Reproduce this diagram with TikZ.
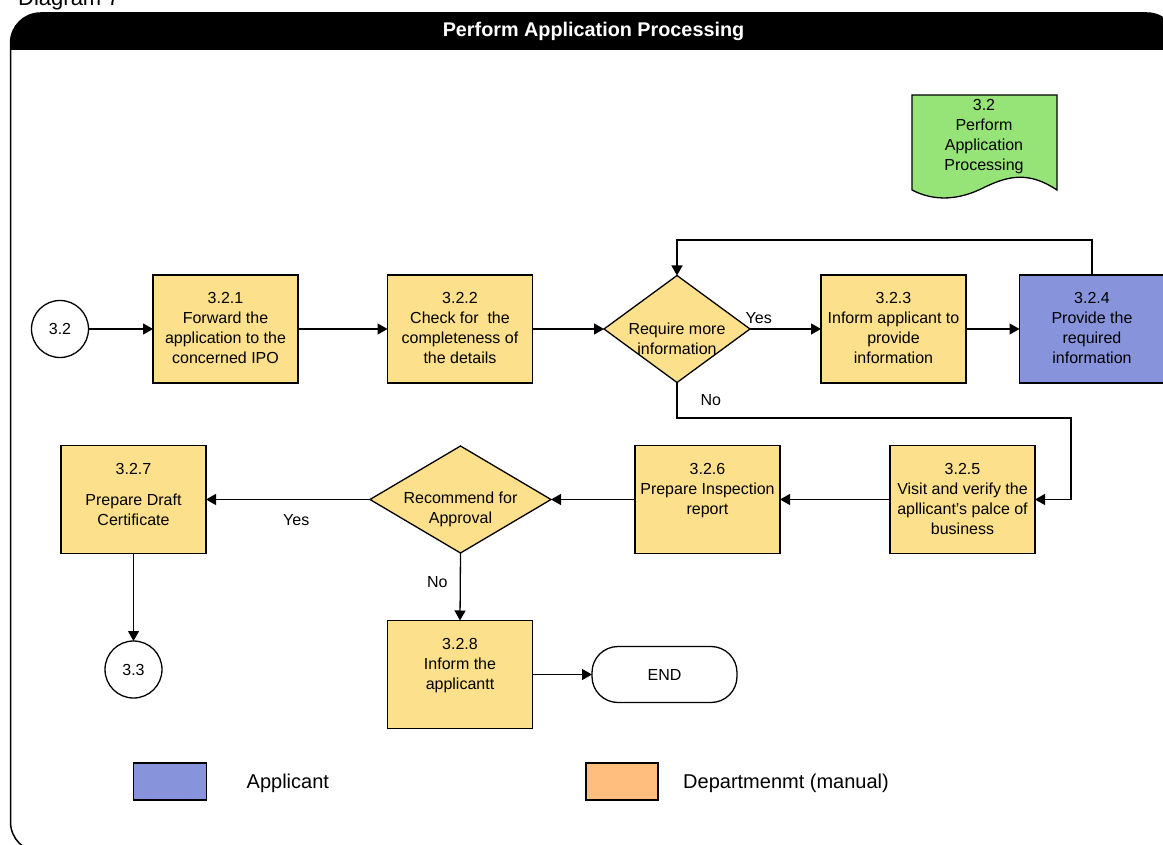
\documentclass[tikz,border=0pt]{standalone}
\usepackage{fontspec}
\setmainfont{Liberation Sans}
\usepackage{xcolor}
\usetikzlibrary{shapes.geometric,arrows.meta,positioning}
\definecolor{yellow}{HTML}{FDE08C}
\definecolor{blue}{HTML}{8794DC}
\definecolor{orange}{HTML}{FFBE7D}
\definecolor{green}{HTML}{96E478}
\tikzstyle{node}=[draw=black, line width=1.3pt, inner sep=0, outer sep=0]
\tikzstyle{node text}=[align=center, inner sep=0, font=\fontsize{16}{20}\selectfont]
\tikzstyle{node proc}=[node, rectangle, minimum width=145, minimum height=108]
\tikzstyle{node dec}=[node, diamond, fill=yellow, minimum height=107]
\tikzstyle{node conn}=[node, node text, circle, minimum size=57]
\tikzstyle{node legend}=[node, rectangle, minimum width=73, minimum height=37]
\tikzstyle{connect}=[line width=1.3pt, -{Triangle[length=10pt,width=11pt]}]

\begin{document}
\begin{tikzpicture}[x=1pt, y=-1pt]
  \useasboundingbox (0,0) rectangle (1163,845);

  % FRAME AND TITLE
  \node[anchor=base west, inner sep=0, font=\fontsize{22}{26}\selectfont] (caption) at (18,6) {Diagram 7};
  \begin{scope}
    \clip[rounded corners=30pt] (10.5,13) rectangle (1177,852);
    \fill[black] (10.5,13) rectangle (1177,50);
  \end{scope}
  \draw[line width=1.5pt, rounded corners=30pt] (10.5,13) rectangle (1177,852);
  \node[white, font=\bfseries\fontsize{19.8}{22}\selectfont] (title) at (593.5,31.5) {Perform Application Processing};

  % PAGE REFERENCE
  \filldraw[fill=green, line width=1.3pt] (912,95) -- (1057,95) -- (1057,190)
    .. controls (1030,172) and (1010,175) .. (985,187)
    .. controls (960,200) and (935,202) .. (912,190) -- cycle;
  \node[node text] (ref) at (984,137) {3.2\\Perform\\Application\\Processing};

  % PROCESS BOXES
  \foreach \name/\x/\y/\fillc/\txt in {
      P1/225.5/329/yellow/{3.2.1\\Forward the\\application to the\\concerned IPO},
      P2/460/329/yellow/{3.2.2\\Check for~ the\\completeness of\\the details},
      P3/893.5/329/yellow/{3.2.3\\Inform applicant to\\provide\\information},
      P4/1092/329/blue/{3.2.4\\Provide the\\required\\information},
      P5/962.5/499.5/yellow/{3.2.5\\Visit and verify the\\apllicant's palce of\\business},
      P6/707.5/499.5/yellow/{3.2.6\\Prepare Inspection\\report},
      P7/133.5/499.5/yellow/{3.2.7\\[11pt]Prepare Draft\\Certificate},
      P8/460/674.5/yellow/{3.2.8\\Inform the\\applicantt}}{  % loop over boxes
    \node[node proc, fill=\fillc] (\name) at (\x,\y) {};
    \node[node text, below=17.5pt of \name.north] (\name-text) {\txt};
  }

  % DECISIONS
  \node[node dec, minimum width=146] (D1) at (677,329) {};
  \node[node text, yshift=-10pt] (D1-text) at (D1) {Require more\\information};
  \node[node dec, minimum width=181] (D2) at (460.5,499.5) {};
  \node[node text, yshift=-10pt] (D2-text) at (D2) {Recommend for\\Approval};

  % CONNECTORS AND END
  \node[node conn] (C1) at (60,329) {3.2};
  \node[node conn] (C2) at (133.5,669.5) {3.3};
  \node[node, node text, rounded corners=26pt, minimum width=145, minimum height=56] (stop) at (664.5,674.5) {END};

  % ARROWS
  \draw[connect] (C1.east) -- (P1.west);
  \draw[connect] (P1.east) -- (P2.west);
  \draw[connect] (P2.east) -- (D1.west);
  \draw[connect] (D1.east) -- node[node text, pos=0, anchor=south west, xshift=-5pt, yshift=5pt] (yes-1) {Yes} (P3.west);
  \draw[connect] (P3.east) -- (P4.west);
  \draw[connect] (P4.north) -- ++(0,-35) -| (D1.north);
  \coordinate (D1-turn) at (1071,418);
  \draw[connect] (D1.south) |- node[node text, pos=0.25, right=23pt] (no-1) {No} (D1-turn) |- (P5.east);
  \draw[connect] (P5.west) -- (P6.east);
  \draw[connect] (P6.west) -- (D2.east);
  \draw[connect] (D2.west) -- node[node text, pos=0.45, below=14pt] (yes-2) {Yes} (P7.east);
  \draw[connect] (P7.south) -- (C2.north);
  \draw[connect] (D2.south) -- node[node text, pos=0.43, left=12pt] (no-2) {No} (P8.north);
  \draw[connect] (P8.east) -- (stop.west);

  % LEGEND
  \node[node legend, fill=blue] (L1) at (170,781.5) {};
  \node[inner sep=0, font=\fontsize{20}{24}\selectfont, right=40pt of L1, yshift=-2pt] (L1-text) {Applicant};
  \node[node legend, fill=orange, minimum width=72] (L2) at (622,781.5) {};
  \node[inner sep=0, font=\fontsize{20}{24}\selectfont, right=25pt of L2, yshift=-2pt] (L2-text) {Departmenmt (manual)};
\end{tikzpicture}
\end{document}
